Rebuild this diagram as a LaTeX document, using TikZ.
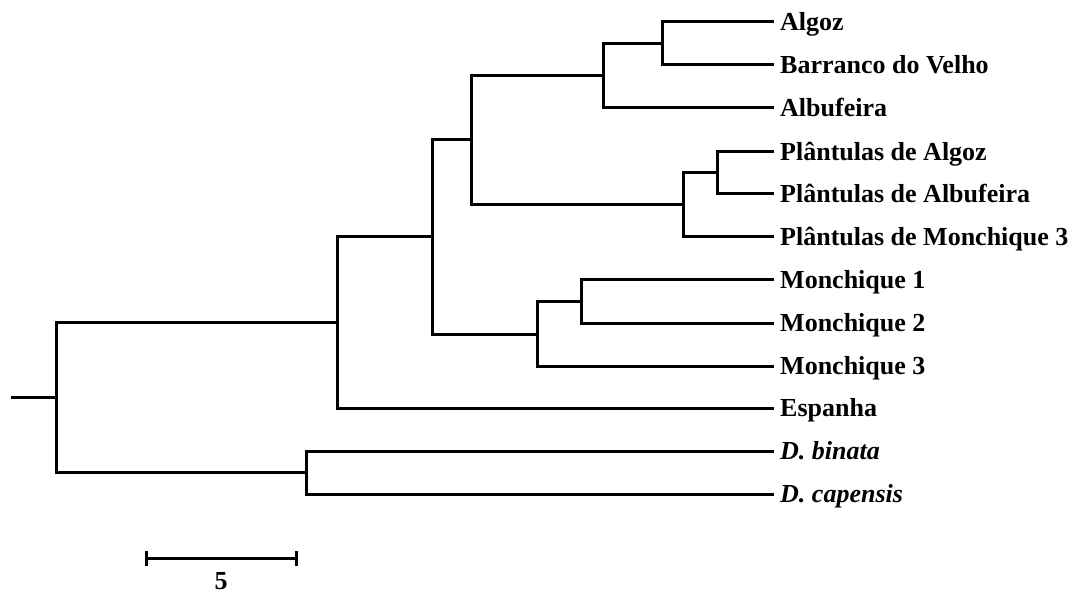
\documentclass[tikz,border=0pt]{standalone}
\usepackage{fontspec}
\setmainfont{Liberation Serif}
\begin{document}
\begin{tikzpicture}[x=1pt,y={(0,-1pt)},
  branch/.style={line width=3pt,line cap=rect,line join=miter},
  taxon/.style={anchor=base west,inner sep=0pt,font=\fontsize{26}{30}\selectfont\bfseries},
  taxonit/.style={taxon,font=\fontsize{26}{30}\selectfont\bfseries\itshape}]
\useasboundingbox (0,0) rectangle (1077,596);

% tip ends of the branches
\foreach \n/\y in {t1/22,t2/65,t3/108,t4/152,t5/194,t6/237,t7/280,t8/323,t9/366,t10/408,t11/451,t12/494}
  \coordinate (\n) at (772,\y);

% labels
\node[taxon]   (l1)  at (780,30.5)  {Algoz};
\node[taxon]   (l2)  at (780,73.5)  {Barranco do Velho};
\node[taxon]   (l3)  at (780,116.5) {Albufeira};
\node[taxon]   (l4)  at (780,160.5) {Plântulas de Algoz};
\node[taxon]   (l5)  at (780,202.5) {Plântulas de Albufeira};
\node[taxon]   (l6)  at (780,245.5) {Plântulas de Monchique 3};
\node[taxon]   (l7)  at (780,288.5) {Monchique 1};
\node[taxon]   (l8)  at (780,331.5) {Monchique 2};
\node[taxon]   (l9)  at (780,374.5) {Monchique 3};
\node[taxon]   (l10) at (780,416.5) {Espanha};
\node[taxonit] (l11) at (780,459.5) {D. binata};
\node[taxonit] (l12) at (780,502.5) {D. capensis};

% internal nodes
\coordinate (a)  at (662,43.5);
\coordinate (b)  at (603,76);
\coordinate (c)  at (717,173);
\coordinate (d)  at (683,204.5);
\coordinate (e)  at (471,140);
\coordinate (f)  at (581,301.5);
\coordinate (g)  at (537,334);
\coordinate (h)  at (432,237);
\coordinate (i)  at (337,322);
\coordinate (j)  at (306,472.5);
\coordinate (r)  at (56,397);
\coordinate (r0) at (11,397);

% branches
\draw[branch] (a) |- (t1) (a) |- (t2);
\draw[branch] (b) |- (a)  (b) |- (t3);
\draw[branch] (c) |- (t4) (c) |- (t5);
\draw[branch] (d) |- (c)  (d) |- (t6);
\draw[branch] (e) |- (b)  (e) |- (d);
\draw[branch] (f) |- (t7) (f) |- (t8);
\draw[branch] (g) |- (f)  (g) |- (t9);
\draw[branch] (h) |- (e)  (h) |- (g);
\draw[branch] (i) |- (h)  (i) |- (t10);
\draw[branch] (j) |- (t11) (j) |- (t12);
\draw[branch] (r) |- (i)  (r) |- (j);
\draw[branch,line cap=butt] (r0) -- (r);

% scale bar
\coordinate (s1) at (146,558);
\coordinate (s2) at (296,558);
\draw[line width=3pt] (s1) -- (s2);
\draw[line width=3pt] ([yshift=-7.5pt]s1) -- ([yshift=7.5pt]s1);
\draw[line width=3pt] ([yshift=-7.5pt]s2) -- ([yshift=7.5pt]s2);
\node[taxon,anchor=base] (sl) at (221,589) {5};
\end{tikzpicture}
\end{document}
